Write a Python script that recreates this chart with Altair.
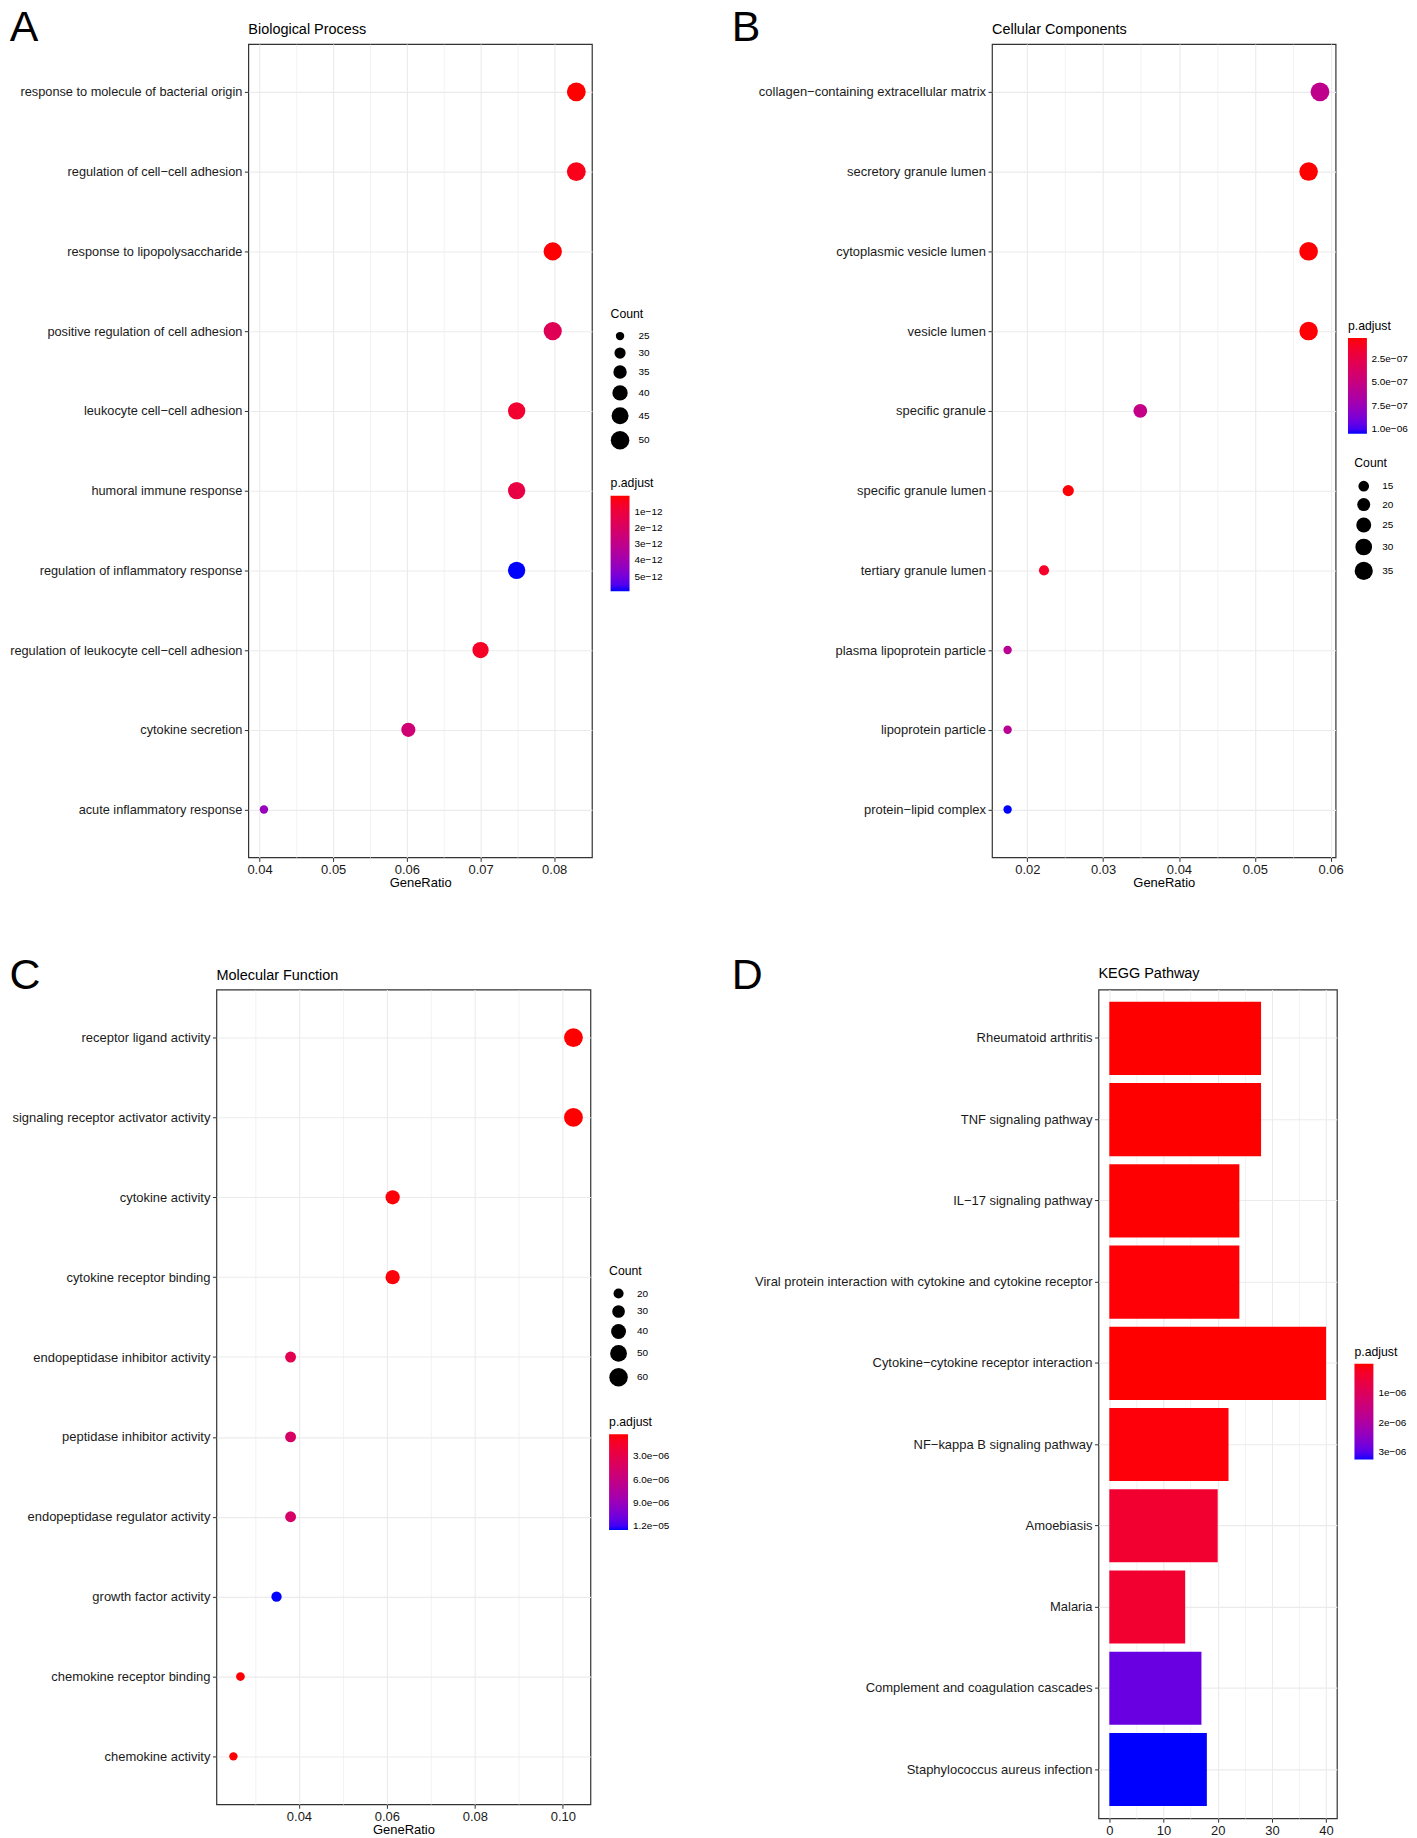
import altair as alt
import pandas as pd

FONT = "Liberation Sans"
RED, BLUE = "#ff0000", "#0000ff"

# ---------------- Panel A : Biological Process ----------------
bp_terms = ["response to molecule of bacterial origin", "regulation of cell−cell adhesion",
            "response to lipopolysaccharide", "positive regulation of cell adhesion",
            "leukocyte cell−cell adhesion", "humoral immune response",
            "regulation of inflammatory response", "regulation of leukocyte cell−cell adhesion",
            "cytokine secretion", "acute inflammatory response"]
bp_ratio = [0.0830, 0.0830, 0.0798, 0.0798, 0.0749, 0.0749, 0.0749, 0.0700, 0.0602, 0.0406]
bp_count = [51, 51, 49, 49, 46, 46, 46, 43, 37, 25]
bp_padj = [1.0e-14, 3.0e-13, 5.0e-14, 1.65e-12, 7.0e-13, 1.2e-12, 5.9e-12, 5.0e-13, 2.4e-12, 4.25e-12]
bp_xticks = [0.04, 0.045, 0.05, 0.055, 0.06, 0.065, 0.07, 0.075, 0.08]
bp_size_breaks = [25, 30, 35, 40, 45, 50]
bp_color_breaks = [1e-12, 2e-12, 3e-12, 4e-12, 5e-12]

# ---------------- Panel B : Cellular Components ----------------
cc_terms = ["collagen−containing extracellular matrix", "secretory granule lumen",
            "cytoplasmic vesicle lumen", "vesicle lumen", "specific granule",
            "specific granule lumen", "tertiary granule lumen", "plasma lipoprotein particle",
            "lipoprotein particle", "protein−lipid complex"]
cc_ratio = [0.0586, 0.0571, 0.0571, 0.0571, 0.0349, 0.0254, 0.0222, 0.0174, 0.0174, 0.0174]
cc_count = [37, 36, 36, 36, 22, 16, 14, 11, 11, 11]
cc_padj = [5.6e-7, 3.0e-8, 3.5e-8, 4.0e-8, 5.3e-7, 4.0e-8, 1.3e-7, 5.9e-7, 5.9e-7, 1.05e-6]
cc_xticks = [0.02, 0.025, 0.03, 0.035, 0.04, 0.045, 0.05, 0.055, 0.06]
cc_size_breaks = [15, 20, 25, 30, 35]
cc_color_breaks = [2.5e-7, 5.0e-7, 7.5e-7, 1.0e-6]

# ---------------- Panel C : Molecular Function ----------------
mf_terms = ["receptor ligand activity", "signaling receptor activator activity",
            "cytokine activity", "cytokine receptor binding",
            "endopeptidase inhibitor activity", "peptidase inhibitor activity",
            "endopeptidase regulator activity", "growth factor activity",
            "chemokine receptor binding", "chemokine activity"]
mf_ratio = [0.1024, 0.1024, 0.0613, 0.0613, 0.0381, 0.0381, 0.0381, 0.0349, 0.0267, 0.0251]
mf_count = [62, 62, 37, 37, 23, 23, 23, 21, 16, 15]
mf_padj = [1.5e-7, 1.6e-7, 3.0e-7, 3.2e-7, 3.2e-6, 4.4e-6, 4.5e-6, 1.245e-5, 2.0e-7, 2.5e-7]
mf_xticks = [0.03, 0.04, 0.05, 0.06, 0.07, 0.08, 0.09, 0.10]
mf_size_breaks = [20, 30, 40, 50, 60]
mf_color_breaks = [3.0e-6, 6.0e-6, 9.0e-6, 1.2e-5]

# ---------------- Panel D : KEGG Pathway ----------------
kegg_terms = ["Rheumatoid arthritis", "TNF signaling pathway", "IL−17 signaling pathway",
              "Viral protein interaction with cytokine and cytokine receptor",
              "Cytokine−cytokine receptor interaction", "NF−kappa B signaling pathway",
              "Amoebiasis", "Malaria", "Complement and coagulation cascades",
              "Staphylococcus aureus infection"]
kegg_count = [28, 28, 24, 24, 40, 22, 20, 14, 17, 18]
kegg_padj = [2e-9, 5e-9, 1e-8, 3e-8, 1e-10, 5e-8, 3.9e-7, 4.0e-7, 2.85e-6, 3.24e-6]
kegg_xticks = [0, 5, 10, 15, 20, 25, 30, 35, 40]
kegg_color_breaks = [1e-6, 2e-6, 3e-6]


def expand(lo, hi, mult=0.05):
    d = (hi - lo) * mult
    return [lo - d, hi + d]


def x_axis(title, values, minor_test, fmt):
    return alt.Axis(
        title=title,
        values=values,
        labelExpr=f"({minor_test}) ? '' : {fmt}",
        grid=True, gridColor="#EBEBEB",
        gridWidth={"condition": {"test": minor_test, "value": 0.6}, "value": 1.1},
        tickColor={"condition": {"test": minor_test, "value": "transparent"}, "value": "#333333"},
        tickSize=4, labelPadding=2, titlePadding=0, domain=False,
        labelFontSize=13, titleFontSize=13, labelColor="#1a1a1a", titleColor="#000000",
        titleFontWeight="normal", labelFlush=False, labelOverlap=False)


def y_axis(band=False, font_size=13):
    kw = {"bandPosition": 0.5} if band else {}
    return alt.Axis(title=None, grid=True, gridColor="#EBEBEB", gridWidth=1.1,
                    tickSize=4, tickColor="#333333", labelPadding=2.5, labelFontSize=font_size,
                    labelColor="#1a1a1a", labelLimit=700, domain=False, **kw)


def color_enc(vals, breaks, expr, lx, ly, label_offset=5):
    # colour is encoded on -p.adjust so that the gradient shows small values (red) on top
    return alt.Color(
        "negp:Q",
        scale=alt.Scale(domain=[-max(vals), -min(vals)], range=[BLUE, RED], interpolate="lab"),
        legend=alt.Legend(title="p.adjust", orient="none", legendX=lx, legendY=ly,
                          values=[-b for b in breaks], labelExpr=expr, gradientLength=96,
                          gradientThickness=19, gradientStrokeWidth=0,
                          labelOffset=label_offset, titlePadding=6, direction="vertical",
                          labelOverlap=False, padding=0))


def size_legend(values, lx, ly):
    return alt.Legend(title="Count", orient="none", legendX=lx, legendY=ly, values=values,
                      symbolFillColor="black", symbolStrokeColor="black",
                      symbolStrokeWidth=0, symbolOpacity=1, symbolType="circle",
                      labelOffset=9, rowPadding=6, titlePadding=11, padding=0)


def text_layer(text, dx, dy, size):
    return alt.Chart(pd.DataFrame({"t": [text]})).mark_text(
        align="left", baseline="alphabetic", fontSize=size, font=FONT, color="black"
    ).encode(text="t:N", x=alt.value(dx), y=alt.value(dy))


def dot_panel(terms, ratio, count, padj, title, title_dy, letter, ldx, ldy, width, height,
              xticks, minor_test, size_breaks, color_breaks, color_expr, size_xy, color_xy,
              color_label_offset=5, ylabel_size=13):
    df = pd.DataFrame({"term": terms, "ratio": ratio, "count": count, "padj": padj})
    pts = alt.Chart(df).transform_calculate(negp="-datum.padj").mark_circle(opacity=1).encode(
        x=alt.X("ratio:Q", scale=alt.Scale(domain=expand(min(ratio), max(ratio)),
                                           nice=False, zero=False),
                axis=x_axis("GeneRatio", xticks, minor_test, "format(datum.value, '.2f')")),
        y=alt.Y("term:N", sort=terms, scale=alt.Scale(type="point", padding=0.6),
                axis=y_axis(font_size=ylabel_size)),
        size=alt.Size("count:Q", scale=alt.Scale(domain=[min(count), max(count)],
                                                 range=[71, 356], zero=False),
                      legend=size_legend(size_breaks, *size_xy)),
        color=color_enc(padj, color_breaks, color_expr, *color_xy,
                        label_offset=color_label_offset),
    )
    return alt.layer(pts, text_layer(title, 0, title_dy, 14.5),
                     text_layer(letter, ldx, ldy, 43)).properties(width=width, height=height)


minor_100 = "abs(datum.value*100 - round(datum.value*100)) > 0.01"
minor_50 = "abs(datum.value*50 - round(datum.value*50)) > 0.01"

panelA = dot_panel(bp_terms, bp_ratio, bp_count, bp_padj, "Biological Process", -10.4,
                   "A", -239.3, -3.0, 344.6, 815.7, bp_xticks, minor_100,
                   bp_size_breaks, bp_color_breaks,
                   "format(-datum.value/1e-12, '.0f') + 'e−12'",
                   (363.3, 264.6), (363.3, 434.6), ylabel_size=12.8)

panelB = dot_panel(cc_terms, cc_ratio, cc_count, cc_padj, "Cellular Components", -9.7,
                   "B", -261.0, -3.0, 344.6, 815.7, cc_xticks, minor_100,
                   cc_size_breaks, cc_color_breaks,
                   "-datum.value >= 9.99e-7 ? format(-datum.value/1e-6, '.1f') + 'e−06' : format(-datum.value/1e-7, '.1f') + 'e−07'",
                   (363.3, 414.6), (357.0, 276.6), color_label_offset=4.5)

panelC = dot_panel(mf_terms, mf_ratio, mf_count, mf_padj, "Molecular Function", -9.5,
                   "C", -207.6, -0.5, 375.1, 817.0, mf_xticks, minor_50,
                   mf_size_breaks, mf_color_breaks,
                   "-datum.value >= 9.99e-6 ? format(-datum.value/1e-5, '.1f') + 'e−05' : format(-datum.value/1e-6, '.1f') + 'e−06'",
                   (393.8, 276.0), (393.8, 427.5))

dfD = pd.DataFrame({"term": kegg_terms, "count": kegg_count, "padj": kegg_padj})
barsD = alt.Chart(dfD).transform_calculate(negp="-datum.padj").mark_bar().encode(
    x=alt.X("count:Q", scale=alt.Scale(domain=expand(0, max(kegg_count)), nice=False, zero=False),
            axis=x_axis(None, kegg_xticks, "datum.value % 10 != 0", "format(datum.value, 'd')")),
    y=alt.Y("term:N", sort=kegg_terms,
            scale=alt.Scale(type="band", paddingInner=0.1, paddingOuter=0.15),
            axis=y_axis(band=True)),
    color=color_enc(kegg_padj, kegg_color_breaks,
                    "format(-datum.value/1e-6, '.0f') + 'e−06'", 256.7, 357.0),
)
panelD = alt.layer(barsD, text_layer("KEGG Pathway", 0, -11.5, 14.5),
                   text_layer("D", -367.7, -0.5, 43)).properties(width=239.1, height=831.0)

# an empty, invisible cell that shifts the top row 31.7 px to the right of the bottom row
spacer = alt.Chart(pd.DataFrame({"a": [0]})).mark_point(opacity=0).encode(
    x=alt.value(0), y=alt.value(0)
).properties(width=31.7, height=1, view=alt.ViewBackground(strokeOpacity=0))

rowAB = alt.hconcat(panelA, panelB, spacing=400.8, bounds="flush").resolve_scale(
    color="independent", size="independent")
row1 = alt.hconcat(spacer, rowAB, spacing=0, bounds="flush").resolve_scale(
    color="independent", size="independent")
row2 = alt.hconcat(panelC, panelD, spacing=508.6, bounds="flush").resolve_scale(
    color="independent", size="independent")

chart = alt.concat(row1, row2, columns=1, spacing=63.3).resolve_scale(
    color="independent", size="independent"
).properties(
    padding={"left": 0, "top": -4.5, "right": 0, "bottom": 5}
).configure(
    font=FONT
).configure_view(
    stroke="#333333", strokeWidth=1.2
).configure_legend(
    titleFontSize=12.3, titleFontWeight="normal", titleColor="black",
    labelFontSize=10, labelColor="black", titleFont=FONT, labelFont=FONT
)

chart.save("out.html", embed_options={"renderer": "svg", "actions": False})
